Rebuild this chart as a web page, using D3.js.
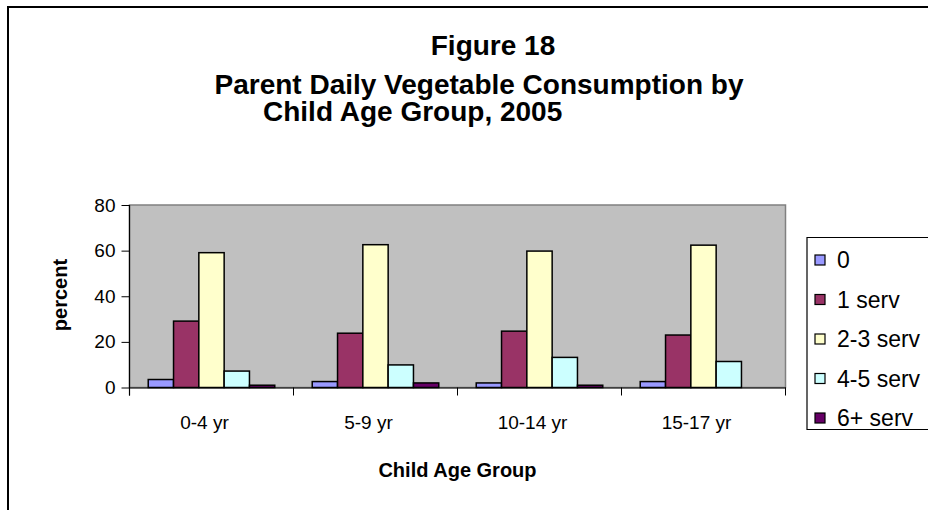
<!DOCTYPE html>
<meta charset="utf-8">
<style>
  html, body { margin: 0; background: #fff; overflow: hidden; }
  svg { display: block; }
  text { font-family: "Liberation Sans", Arial, sans-serif; }
</style>
<svg width="928" height="510"></svg>

<script src="https://d3js.org/d3.v7.min.js"></script>
<script>

// data
var ageGroups = ["0-4 yr", "5-9 yr", "10-14 yr", "15-17 yr"]
var servings = ["0", "1 serv", "2-3 serv", "4-5 serv", "6+ serv"]
var colors = ["#9999FF", "#993366", "#FFFFCC", "#CCFFFF", "#660066"]

var zeroServ = [3.5, 2.6, 2.0, 2.6]
var oneServ = [29.1, 23.8, 24.7, 23.0]
var twoThreeServ = [59.1, 62.6, 59.8, 62.4]
var fourFiveServ = [7.2, 9.9, 13.2, 11.4]
var sixPlusServ = [1.0, 2.0, 1.0, 0]

var yTicks = [0, 20, 40, 60, 80]

var values = [zeroServ, oneServ, twoThreeServ, fourFiveServ, sixPlusServ]

var svg = d3.select('svg')
var W = 928, H = 510

// outer frame: only top and left edges are inside the picture
svg.append('path')
  .attr('d', 'M8,' + H + 'V7H' + W)
  .attr('fill', 'none')
  .attr('stroke', '#000')
  .attr('stroke-width', 2)

// titles
var title = svg.append('g').attr('font-weight', 'bold').attr('font-size', 28)
title.append('text').attr('x', 493).attr('y', 55).attr('text-anchor', 'middle').text('Figure 18')
title.append('text').attr('x', 479).attr('y', 94).attr('text-anchor', 'middle').text('Parent Daily Vegetable Consumption by')
title.append('text').attr('x', 263).attr('y', 121).text('Child Age Group, 2005')

var plot = { left: 129.5, right: 785.5, top: 205, bottom: 387.5 }

var x = d3.scaleBand().domain(ageGroups).range([plot.left, plot.right])
var xInner = d3.scaleBand().domain(servings).range([0, x.bandwidth()]).paddingOuter(0.74)
var y = d3.scaleLinear().domain([0, 80]).range([plot.bottom, plot.top])

// plot background
svg.append('rect')
  .attr('x', plot.left).attr('y', plot.top)
  .attr('width', plot.right - plot.left).attr('height', plot.bottom - plot.top)
  .attr('fill', '#C0C0C0')
  .attr('stroke', '#808080')
  .attr('stroke-width', 1.5)

// bars
var rows = []
ageGroups.forEach(function (g, i) {
  servings.forEach(function (s, j) {
    rows.push({ group: g, serv: s, value: values[j][i], color: colors[j] })
  })
})

svg.append('g').selectAll('rect')
  .data(rows.filter(function (d) { return d.value > 0 }))
  .join('rect')
  .attr('x', function (d) { return x(d.group) + xInner(d.serv) })
  .attr('y', function (d) { return y(d.value) })
  .attr('width', xInner.bandwidth())
  .attr('height', function (d) { return y(0) - y(d.value) })
  .attr('fill', function (d) { return d.color })
  .attr('stroke', '#000')
  .attr('stroke-width', 1.5)

// y axis
var yAxis = svg.append('g')
  .attr('transform', 'translate(' + plot.left + ',0)')
  .call(d3.axisLeft(y).tickValues(yTicks).tickSize(8).tickPadding(6))
yAxis.select('.domain').attr('stroke', '#000').attr('stroke-width', 1.2).attr('d', 'M0,' + plot.top + 'V' + (plot.bottom + 8))
yAxis.selectAll('.tick line').attr('stroke', '#000')
yAxis.selectAll('text').attr('font-size', 19).attr('font-family', '"Liberation Sans", Arial, sans-serif').attr('fill', '#000')

// x axis: ticks sit on category boundaries
var xAxis = svg.append('g')
  .attr('transform', 'translate(0,' + plot.bottom + ')')
  .call(d3.axisBottom(x).tickSize(0).tickPadding(28))
xAxis.select('.domain').attr('stroke', '#000').attr('stroke-width', 1.2)
xAxis.selectAll('text').attr('font-size', 19).attr('dx', -7).attr('font-family', '"Liberation Sans", Arial, sans-serif').attr('fill', '#000')
xAxis.selectAll('.bound')
  .data(ageGroups.concat(['end']))
  .join('line')
  .attr('x1', function (d, i) { return plot.left + i * x.step() })
  .attr('x2', function (d, i) { return plot.left + i * x.step() })
  .attr('y1', 0).attr('y2', 8)
  .attr('stroke', '#000')

// axis titles
svg.append('text')
  .attr('x', (plot.left + plot.right) / 2).attr('y', 477)
  .attr('text-anchor', 'middle')
  .attr('font-weight', 'bold').attr('font-size', 20)
  .text('Child Age Group')

svg.append('text')
  .attr('transform', 'translate(67,295) rotate(-90)')
  .attr('text-anchor', 'middle')
  .attr('font-weight', 'bold').attr('font-size', 20)
  .text('percent')

// legend (box runs off the right edge, so no right side is drawn)
var legend = svg.append('g').attr('transform', 'translate(807,237.5)')
legend.append('path')
  .attr('d', 'M' + (W - 807) + ',0H0V192H' + (W - 807))
  .attr('fill', '#fff').attr('stroke', '#000').attr('stroke-width', 1.2)

var item = legend.selectAll('.item')
  .data(servings)
  .join('g')
  .attr('transform', function (d, i) { return 'translate(8,' + (22.5 + i * 39.5) + ')' })
item.append('rect')
  .attr('x', 0).attr('y', -5).attr('width', 10).attr('height', 10)
  .attr('fill', function (d, i) { return colors[i] })
  .attr('stroke', '#000').attr('stroke-width', 1.2)
item.append('text')
  .attr('x', 22).attr('y', 8)
  .attr('font-size', 23)
  .text(function (d) { return d })

</script>
